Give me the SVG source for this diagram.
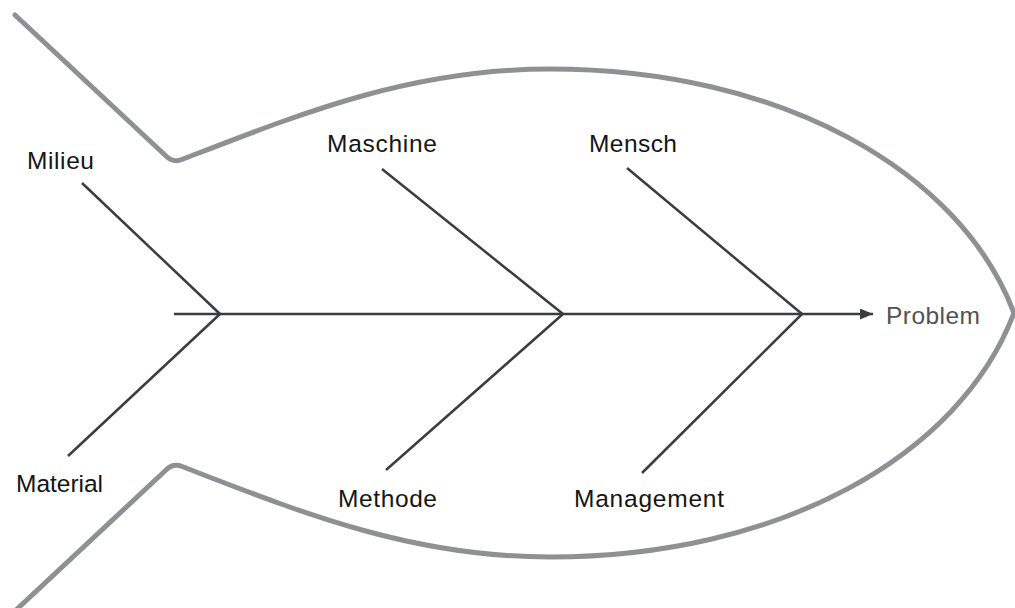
<svg xmlns="http://www.w3.org/2000/svg" width="1015" height="608" viewBox="0 0 1015 608">
  <style>
    .outline { fill: none; stroke: #8e9193; stroke-width: 5; stroke-linejoin: round; stroke-linecap: round; }
    .bone { fill: none; stroke: #3a3c3e; stroke-width: 2.5; stroke-linecap: butt; }
    .label { font-family: "Liberation Sans", Arial, sans-serif; font-size: 24.5px; fill: #151515; }
    .effect { font-family: "Liberation Sans", Arial, sans-serif; font-size: 24.5px; fill: #505254; }
  </style>
  <defs>
    <marker id="arrow" markerWidth="14" markerHeight="11" refX="13" refY="5.5" orient="auto" markerUnits="userSpaceOnUse">
      <path d="M0,0 L13,5.5 L0,11 Z" fill="#3a3c3e"/>
    </marker>
  </defs>
  <rect width="1015" height="608" fill="#ffffff"/>

  <!-- fish outline: tail fins, back, nose and belly -->
  <path id="fish-outline" class="outline"
        d="M15,15 L166,156 Q173,163 182,159.5 C300,114 410,69 550,69 C780,69 960,170 1014,313 C960,456 780,557 550,557 C410,557 300,512 182,466.5 Q173,463 166,470 L15,611"/>

  <!-- spine and cause bones -->
  <g id="connectors">
    <line class="bone" x1="174" y1="314" x2="873" y2="314" marker-end="url(#arrow)"/>
    <line class="bone" x1="82" y1="183" x2="220" y2="314"/>
    <line class="bone" x1="68" y1="456" x2="220" y2="314"/>
    <line class="bone" x1="382" y1="169" x2="563" y2="314"/>
    <line class="bone" x1="386" y1="470" x2="563" y2="314"/>
    <line class="bone" x1="627" y1="168" x2="802" y2="314"/>
    <line class="bone" x1="642" y1="473" x2="802" y2="314"/>
  </g>

  <g id="milieu"><text class="label" x="27" y="169" textLength="67">Milieu</text></g>
  <g id="material"><text class="label" x="16" y="492" textLength="87">Material</text></g>
  <g id="maschine"><text class="label" x="327" y="152" textLength="110">Maschine</text></g>
  <g id="methode"><text class="label" x="338" y="507" textLength="99">Methode</text></g>
  <g id="mensch"><text class="label" x="589" y="152" textLength="88">Mensch</text></g>
  <g id="management"><text class="label" x="574" y="507" textLength="150">Management</text></g>
  <g id="problem"><text class="effect" x="886" y="324" textLength="94">Problem</text></g>
</svg>
